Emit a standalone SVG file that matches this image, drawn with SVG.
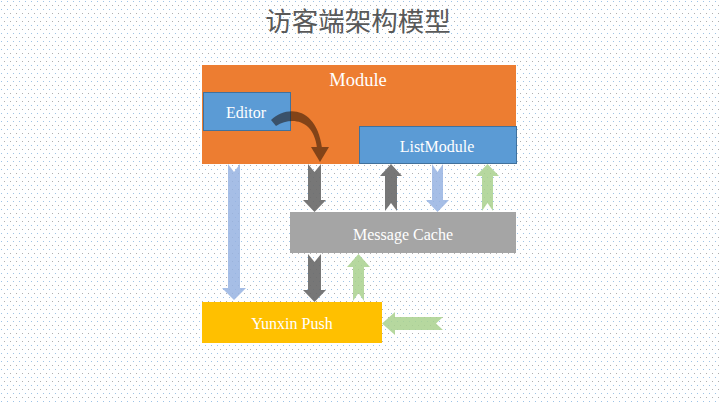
<svg xmlns="http://www.w3.org/2000/svg" width="720" height="405" viewBox="0 0 720 405">
<defs>
<pattern id="dots" x="0" y="0" width="6" height="8" patternUnits="userSpaceOnUse">
<rect x="1" y="1" width="1" height="1" fill="#9dc3e6"/>
<rect x="4" y="5" width="1" height="1" fill="#b0b0b0"/>
<rect x="4" y="1" width="1" height="1" fill="#b8b8b8" opacity="0"/>
</pattern>
<style>
.lbl{font-family:"Liberation Serif","Times New Roman",serif;fill:#ffffff;text-anchor:middle}
.gray{fill:#6b6b6b;opacity:0.92}
.blue{fill:#97b3e2;opacity:0.85}
.green{fill:#a9d18e;opacity:0.85}
</style>
</defs>
<rect width="720" height="405" fill="#ffffff"/>
<rect width="720" height="405" fill="url(#dots)"/>
<text x="358" y="31" font-family="'Noto Sans CJK SC','Noto Sans',sans-serif" font-size="26.5" fill="#595959" text-anchor="middle">访客端架构模型</text>

<g id="module">
<rect x="202" y="65" width="314" height="99" fill="#ed7d31"/>
<text class="lbl" x="358" y="86" font-size="18.5">Module</text>
</g>
<g id="editor">
<rect x="203.5" y="92.5" width="87" height="38" fill="#5b9bd5" stroke="#41719c" stroke-width="1"/>
<text class="lbl" x="246" y="118" font-size="16">Editor</text>
</g>
<g id="listmodule">
<rect x="359.5" y="126.5" width="157" height="37" fill="#5b9bd5" stroke="#41719c" stroke-width="1"/>
<text class="lbl" x="437" y="152" font-size="16">ListModule</text>
</g>
<g id="messagecache">
<rect x="290" y="212" width="226" height="41" fill="#a5a5a5"/>
<text class="lbl" x="403" y="240" font-size="16" fill="#f2f2f2">Message Cache</text>
</g>
<g id="yunxinpush">
<rect x="202" y="302" width="180" height="41" fill="#ffc000"/>
<text class="lbl" x="292" y="329" font-size="16">Yunxin Push</text>
</g>

<g id="connectors">
<!-- curved arrow Editor -> Module bottom -->
<g opacity="0.5">
<path d="M271,120 C288,104 317,108 322,148 L317,148 C314,120 292,116 276,126 Z" fill="#1a0a00"/>
<polygon points="311,147 329,147 320,162" fill="#1a0a00"/>
</g>
<!-- long blue: Module -> Yunxin Push -->
<path class="blue" d="M228,164 L234,172 L240,164 L240,288 L246,288 L234,300 L222,288 L228,288 Z"/>
<!-- gray: Module -> Message Cache -->
<path class="gray" d="M308,164 L314.5,172 L321,164 L321,200 L326,200 L314.5,212 L303,200 L308,200 Z"/>
<!-- gray up: Message Cache -> ListModule -->
<path class="gray" d="M385,211 L391,203 L397,211 L397,176 L402,176 L391,164 L380,176 L385,176 Z"/>
<!-- blue down: ListModule -> Message Cache -->
<path class="blue" d="M432,164 L437.5,172 L443,164 L443,200 L449,200 L437.5,212 L426,200 L432,200 Z"/>
<!-- green up: Message Cache -> ListModule -->
<path class="green" d="M482,211 L487.5,203 L493,211 L493,176 L499,176 L487.5,164 L476,176 L482,176 Z"/>
<!-- gray down: Message Cache -> Yunxin Push -->
<path class="gray" d="M308,254 L314.5,262 L321,254 L321,290 L326,290 L314.5,302 L303,290 L308,290 Z"/>
<!-- green up: Yunxin Push -> Message Cache -->
<path class="green" d="M353,301 L358.5,293 L364,301 L364,267 L370,267 L358.5,254 L347,267 L353,267 Z"/>
<!-- green left: into Yunxin Push -->
<path class="green" d="M443,317 L436,323.5 L443,330 L395,330 L395,335 L382,323.5 L395,312 L395,317 Z"/>
</g>
</svg>
